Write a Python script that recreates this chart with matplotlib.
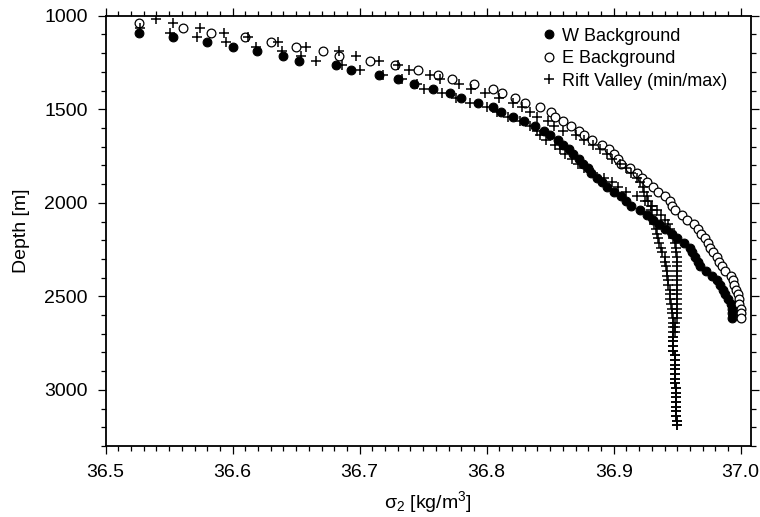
import matplotlib
matplotlib.use("Agg")
import matplotlib.pyplot as plt
from matplotlib.ticker import MultipleLocator, FormatStrFormatter

plt.rcParams['font.family'] = ['Liberation Sans', 'DejaVu Sans']
plt.rcParams['mathtext.default'] = 'regular'

# depth grid of the profiles [m]
depth_grid = [1015, 1040, 1065, 1090, 1115, 1140, 1165, 1190, 1215, 1240,
              1265, 1290, 1315, 1340, 1365, 1390, 1415, 1440, 1465, 1490,
              1515, 1540, 1565, 1590, 1615, 1640, 1665, 1690, 1715, 1740,
              1765, 1790, 1815, 1840, 1865, 1890, 1915, 1940, 1965, 1990,
              2015, 2040, 2065, 2090, 2115, 2140, 2165, 2190, 2215, 2240,
              2265, 2290, 2315, 2340, 2365, 2390, 2415, 2440, 2465, 2490,
              2515, 2540, 2565, 2590, 2615, 2640, 2665, 2690, 2715, 2740,
              2765, 2790, 2815, 2840, 2865, 2890, 2915, 2940, 2965, 2990,
              3015, 3040, 3065, 3090, 3115, 3140, 3165, 3190]

# W background, 1090 .. 2615 m
w_sigma = [36.526, 36.553, 36.580, 36.600, 36.619, 36.640, 36.652, 36.681, 36.693, 36.715,
           36.730, 36.743, 36.758, 36.771, 36.780, 36.793, 36.805, 36.811, 36.821, 36.829,
           36.838, 36.845, 36.850, 36.856, 36.860, 36.865, 36.868, 36.873, 36.876, 36.880,
           36.882, 36.887, 36.891, 36.895, 36.900, 36.906, 36.910, 36.914, 36.921, 36.926,
           36.931, 36.936, 36.940, 36.946, 36.950, 36.955, 36.960, 36.962, 36.964, 36.966,
           36.968, 36.973, 36.977, 36.981, 36.984, 36.986, 36.988, 36.990, 36.992, 36.993,
           36.993, 36.993]
w_start = 1090

# E background, 1040 .. 2615 m
e_sigma = [36.526, 36.561, 36.583, 36.610, 36.630, 36.650, 36.671, 36.684, 36.708, 36.728,
           36.746, 36.762, 36.773, 36.790, 36.805, 36.812, 36.822, 36.830, 36.842, 36.851,
           36.854, 36.860, 36.866, 36.873, 36.877, 36.883, 36.891, 36.896, 36.900, 36.903,
           36.906, 36.913, 36.918, 36.922, 36.926, 36.931, 36.935, 36.940, 36.944, 36.946,
           36.948, 36.954, 36.958, 36.963, 36.966, 36.969, 36.972, 36.974, 36.976, 36.978,
           36.981, 36.983, 36.985, 36.988, 36.992, 36.994, 36.995, 36.996, 36.998, 36.999,
           36.999, 37.000, 37.000, 37.000]
e_start = 1040

# Rift valley, first profile, 1015 .. 3190 m
rift_a = [36.540, 36.553, 36.574, 36.593, 36.612, 36.636, 36.658, 36.684, 36.697, 36.715,
          36.730, 36.739, 36.755, 36.763, 36.778, 36.788, 36.799, 36.810, 36.821, 36.828,
          36.834, 36.840, 36.848, 36.853, 36.860, 36.870, 36.877, 36.884, 36.889, 36.895,
          36.899, 36.905, 36.910, 36.914, 36.918, 36.921, 36.923, 36.924, 36.926, 36.927,
          36.929, 36.929, 36.930, 36.931, 36.932, 36.933, 36.934, 36.935, 36.936, 36.937,
          36.938, 36.940, 36.940, 36.941, 36.942, 36.942, 36.943, 36.943, 36.944, 36.944,
          36.944, 36.945, 36.946, 36.946, 36.947, 36.947, 36.948, 36.948, 36.947, 36.947,
          36.947, 36.947, 36.948, 36.948, 36.948, 36.948, 36.948, 36.948, 36.948, 36.949,
          36.949, 36.949, 36.949, 36.949, 36.949, 36.949, 36.950, 36.950]
rift_a_start = 1015

# Rift valley, second profile, 1065 .. 3190 m
rift_b = [36.527, 36.551, 36.572, 36.595, 36.618, 36.639, 36.654, 36.666, 36.686, 36.700,
          36.718, 36.733, 36.745, 36.751, 36.765, 36.776, 36.787, 36.800, 36.808, 36.817,
          36.826, 36.834, 36.840, 36.842, 36.847, 36.854, 36.858, 36.862, 36.867, 36.872,
          36.877, 36.884, 36.892, 36.899, 36.903, 36.910, 36.918, 36.925, 36.930, 36.934,
          36.937, 36.940, 36.943, 36.944, 36.946, 36.947, 36.948, 36.949, 36.949, 36.950,
          36.950, 36.950, 36.950, 36.950, 36.950, 36.950, 36.950, 36.950, 36.950, 36.950,
          36.950, 36.950, 36.950, 36.948, 36.947, 36.947, 36.947, 36.947, 36.947, 36.947,
          36.948, 36.948, 36.948, 36.948, 36.948, 36.948, 36.948, 36.949, 36.949, 36.949,
          36.949, 36.949, 36.949, 36.949, 36.950, 36.950]
rift_b_start = 1065


def depths_for(start, values):
    i = depth_grid.index(start)
    return depth_grid[i:i + len(values)]


fig = plt.figure(figsize=(7.6, 5.17), dpi=100)
ax = fig.add_axes([0.139, 0.1373, 0.849, 0.8323])

ax.plot(w_sigma, depths_for(w_start, w_sigma), 'o', ms=6.3, mfc='black', mec='black',
        mew=0.8, label='W Background')
ax.plot(e_sigma, depths_for(e_start, e_sigma), 'o', ms=6.3, mfc='white', mec='black',
        mew=0.9, label='E Background')
ax.plot(rift_a, depths_for(rift_a_start, rift_a), '+', ms=7, mec='black', mew=1.1,
        label='Rift Valley (min/max)')
ax.plot(rift_b, depths_for(rift_b_start, rift_b), '+', ms=7, mec='black', mew=1.1)

ax.set_xlim(36.5, 37.008)
ax.set_ylim(3300, 1000)

ax.xaxis.set_major_locator(MultipleLocator(0.1))
ax.xaxis.set_minor_locator(MultipleLocator(0.01))
ax.xaxis.set_major_formatter(FormatStrFormatter('%.1f'))
ax.yaxis.set_major_locator(MultipleLocator(500))
ax.yaxis.set_minor_locator(MultipleLocator(100))

ax.tick_params(which='both', direction='out', top=True, right=True,
               labeltop=False, labelright=False, width=0.9, labelsize=14)
ax.tick_params(which='major', length=6, pad=7)
ax.tick_params(which='minor', length=3.6)
for sp in ax.spines.values():
    sp.set_linewidth(1.3)

ax.set_xlabel('σ$_2$ [kg/m$^3$]', fontsize=14, labelpad=6)
ax.set_ylabel('Depth [m]', fontsize=14, labelpad=10)

ax.legend(loc='upper left', bbox_to_anchor=(0.676, 0.972), frameon=False,
          fontsize=13, borderpad=0, borderaxespad=0, handlelength=0.8,
          handletextpad=0.3, labelspacing=0.3)

fig.savefig('out.png', dpi=100)
